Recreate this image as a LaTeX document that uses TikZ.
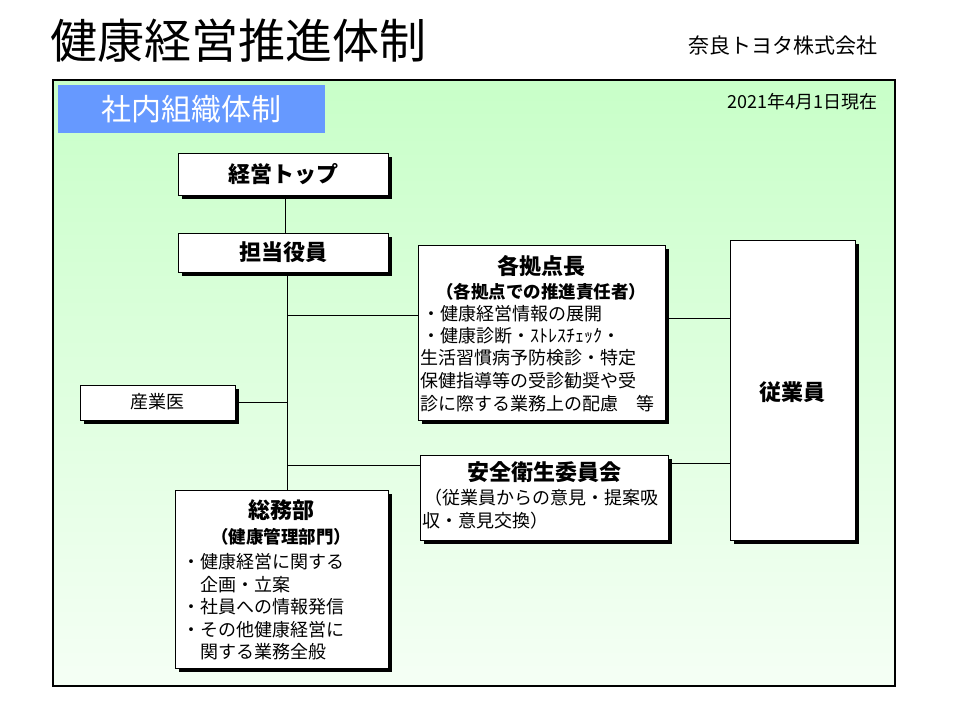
\documentclass[tikz,border=0pt]{standalone}
\usepackage{fontspec}
\setmainfont{Noto Sans CJK JP}
\usetikzlibrary{shadows}
\definecolor{gtop}{RGB}{200,255,200}
\definecolor{gbot}{RGB}{245,255,245}
\definecolor{lblue}{RGB}{102,153,255}
\begin{document}
\begin{tikzpicture}[x=1pt,y=-1pt,
  sbox/.style={draw=black,line width=1pt,fill=white,drop shadow={shadow xshift=3.5pt,shadow yshift=-3.5pt,fill=black,opacity=1}},
  tx/.style={inner sep=0pt,anchor=west,font=\fontsize{18}{20}\selectfont},
  hd/.style={inner sep=0pt,font=\fontsize{22}{24}\selectfont\bfseries},
  sh/.style={inner sep=0pt,font=\fontsize{17.5}{19}\selectfont\bfseries},
  ln/.style={line width=0.8pt}]
\useasboundingbox (0,0) rectangle (960,720);
\fill[white] (0,0) rectangle (960,720);
\node[inner sep=0pt,anchor=west,font=\fontsize{47}{50}\selectfont] (title) at (50,41) {健康経営推進体制};
\node[inner sep=0pt,anchor=west,font=\fontsize{21}{24}\selectfont] (co) at (688,46) {奈良トヨタ株式会社};
\shade[top color=gtop,bottom color=gbot] (53,80) rectangle (895,686);
\draw[line width=1.2pt] (53,80) rectangle (895,686);
\fill[lblue] (58,85) rectangle (325,133);
\node[inner sep=0pt,text=white,font=\fontsize{30}{32}\selectfont] (lab) at (191,109) {社内組織体制};
\node[inner sep=0pt,anchor=east,font=\fontsize{18}{20}\selectfont] (date) at (878,102) {2021年4月1日現在};
% boxes
\draw[sbox] (178,153) rectangle (388,195);
\node[hd] (top) at (283,174) {経営トップ};
\draw[sbox] (178,233) rectangle (388,272);
\node[hd] (yaku) at (283,252) {担当役員};
\draw[sbox] (418,245) rectangle (665,420);
\node[hd] (kyo) at (541,266) {各拠点長};
\node[sh] (kyo2) at (541,292) {（各拠点での推進責任者）};
\node[tx] (k1) at (422,314) {・健康経営情報の展開};
\node[tx] (k2) at (422,336) {・健康診断・ｽﾄﾚｽﾁｪｯｸ・};
\node[tx] (k3) at (420,358) {生活習慣病予防検診・特定};
\node[tx] (k4) at (420,381) {保健指導等の受診勧奨や受};
\node[tx] (k5) at (420,404) {診に際する業務上の配慮　等};
\draw[sbox] (730,240) rectangle (855,540);
\node[hd] (jug) at (792,392) {従業員};
\draw[sbox] (80,385) rectangle (235,420);
\node[inner sep=0pt,font=\fontsize{18}{20}\selectfont] (san) at (157,402) {産業医};
\draw[sbox] (420,455) rectangle (668,540);
\node[hd] (anz) at (544,472) {安全衛生委員会};
\node[tx] (a1) at (424,498) {（従業員からの意見・提案吸};
\node[tx] (a2) at (422,521) {収・意見交換）};
\draw[sbox] (175,490) rectangle (388,668);
\node[hd] (som) at (281,510) {総務部};
\node[sh] (som2) at (281,537) {（健康管理部門）};
\node[tx] (s1) at (182,562) {・健康経営に関する};
\node[tx] (s2) at (182,585) {　企画・立案};
\node[tx] (s3) at (182,607) {・社員への情報発信};
\node[tx] (s4) at (182,630) {・その他健康経営に};
\node[tx] (s5) at (182,652) {　関する業務全般};
% lines
\coordinate (v1) at (287,315);
\coordinate (v2) at (287,402);
\coordinate (v3) at (287,465);
\draw[ln] (285,195) -- (285,233);
\draw[ln] (287,272) -- (287,490);
\draw[ln] (v1) -- (418,315);
\draw[ln] (235,402) -- (v2);
\draw[ln] (v3) -- (420,465);
\draw[ln] (665,318) -- (730,318);
\draw[ln] (668,463) -- (730,463);
\end{tikzpicture}
\end{document}
